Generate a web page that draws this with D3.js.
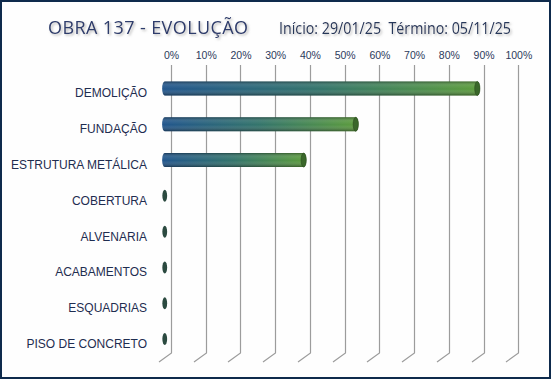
<!DOCTYPE html>
<html><head><meta charset="utf-8">
<script src="https://cdn.jsdelivr.net/npm/d3@7"></script>
<style>html,body{margin:0;padding:0;background:#fff;}svg{display:block;}</style>
</head><body>
<svg id="chart" width="551" height="379"></svg>
<script>
const categories = ["DEMOLIÇÃO","FUNDAÇÃO","ESTRUTURA METÁLICA","COBERTURA","ALVENARIA","ACABAMENTOS","ESQUADRIAS","PISO DE CONCRETO"];
const values = [90, 55, 40, 0, 0, 0, 0, 0];
const tickValues = [0,10,20,30,40,50,60,70,80,90,100];
const title = "OBRA 137 - EVOLUÇÃO";
const subtitle = "Início: 29/01/25  Término: 05/11/25";

const svg = d3.select("#chart");
const W = 551, H = 379;

// background + border
svg.append("rect").attr("x",1).attr("y",1).attr("width",W-2).attr("height",H-2)
  .attr("fill","#fefefe").attr("stroke","#0e2a4c").attr("stroke-width",2);

const defs = svg.append("defs");
const gH = defs.append("linearGradient").attr("id","barH").attr("x1","0").attr("x2","1").attr("y1","0").attr("y2","0");
gH.append("stop").attr("offset","0").attr("stop-color","#21558c");
gH.append("stop").attr("offset","0.5").attr("stop-color","#33746a");
gH.append("stop").attr("offset","1").attr("stop-color","#5c9c3c");
const gV = defs.append("linearGradient").attr("id","barV").attr("x1","0").attr("x2","0").attr("y1","0").attr("y2","1");
gV.append("stop").attr("offset","0").attr("stop-color","#000").attr("stop-opacity",0.35);
gV.append("stop").attr("offset","0.3").attr("stop-color","#fff").attr("stop-opacity",0.08);
gV.append("stop").attr("offset","0.55").attr("stop-color","#fff").attr("stop-opacity",0.0);
gV.append("stop").attr("offset","1").attr("stop-color","#000").attr("stop-opacity",0.4);
const sh = defs.append("filter").attr("id","tshadow").attr("x","-5%").attr("y","-20%").attr("width","110%").attr("height","150%");
sh.append("feDropShadow").attr("dx",1.5).attr("dy",1.5).attr("stdDeviation",1).attr("flood-color","#888").attr("flood-opacity",0.6);

// scales
const x = d3.scaleLinear().domain([0,100]).range([171, 518.3]);
const y = d3.scaleBand().domain(categories).range([70.6, 356.9]).padding(0);
const depthX = -12.5, depthY = 9;
const barDX = depthX/2, barDY = 0;
const plotTop = 65, plotBottom = 353;

// gridlines with floor diagonals
const grid = svg.append("g");
tickValues.forEach(t => {
  const gx = Math.round(x(t)) + 0.5;
  grid.append("path")
    .attr("d", `M${gx},${plotTop} L${gx},${plotBottom} L${gx+depthX},${plotBottom+depthY}`)
    .attr("fill","none").attr("stroke","#9c9c9c").attr("stroke-width",1.2);
});

// top axis labels
const axis = d3.axisTop(x).tickValues(tickValues).tickFormat(d => d + "%").tickSize(0).tickPadding(0);
const ag = svg.append("g").attr("transform","translate(0,59)").call(axis);
ag.select(".domain").remove();
ag.selectAll("text").attr("font-family","Liberation Sans, Arial, sans-serif").attr("font-size","10.5px").attr("fill","#2c3a5c");

// category labels
const lg = svg.append("g");
categories.forEach(c => {
  lg.append("text").attr("x",147).attr("y", y(c) + y.bandwidth()/2 + 9)
    .attr("text-anchor","end").attr("font-family","Liberation Sans, Arial, sans-serif")
    .attr("font-size","12px").attr("fill","#1f2d50").text(c);
});

// bars (cylinders)
const bh = 14, capRx = 2.6;
const bars = svg.append("g").attr("transform",`translate(${barDX},${barDY})`);
categories.forEach((c,i) => {
  const v = values[i];
  const cy = y(c) + y.bandwidth()/2;
  const x0 = x(0), x1 = x(v);
  if (v <= 0) {
    bars.append("ellipse").attr("cx",x0).attr("cy",cy).attr("rx",capRx-0.2).attr("ry",bh/2-1)
      .attr("fill","#2b4a40");
    return;
  }
  const top = cy - bh/2, bot = cy + bh/2;
  const d = `M${x0},${top} L${x1},${top} A${capRx},${bh/2} 0 0 1 ${x1},${bot} L${x0},${bot} A${capRx},${bh/2} 0 0 1 ${x0},${top} Z`;
  bars.append("path").attr("d",d).attr("fill","url(#barH)");
  bars.append("path").attr("d",d).attr("fill","url(#barV)");
  bars.append("ellipse").attr("cx",x1).attr("cy",cy).attr("rx",capRx).attr("ry",bh/2)
    .attr("fill","#3a672a").attr("stroke","#2a4a1e").attr("stroke-width",0.6);
});

// titles
svg.append("text").attr("x",48).attr("y",34).attr("textLength",200).attr("lengthAdjust","spacing")
  .attr("font-family","Open Sans, sans-serif").attr("font-size","18px").attr("fill","#2d3c6c")
  .attr("filter","url(#tshadow)").text(title);
svg.append("text").attr("x",279).attr("y",33.5).attr("textLength",232).attr("lengthAdjust","spacingAndGlyphs")
  .attr("font-family","Open Sans, sans-serif").attr("font-size","16px").attr("fill","#28375a")
  .style("white-space","pre").attr("xml:space","preserve")
  .attr("filter","url(#tshadow)").text(subtitle);
</script>
</body></html>
